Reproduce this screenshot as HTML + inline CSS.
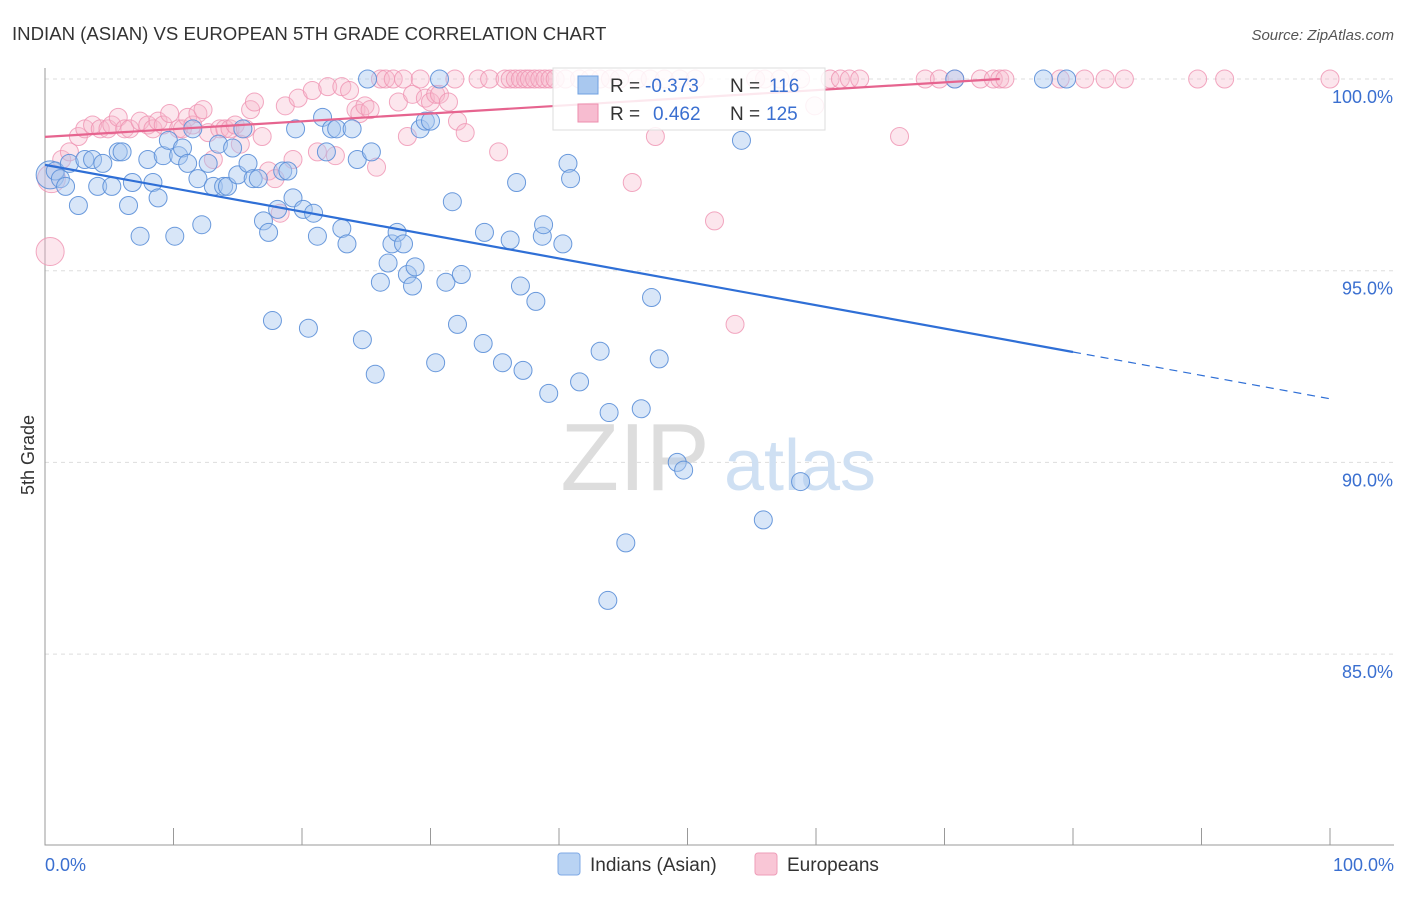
<!DOCTYPE html>
<html><head><meta charset="utf-8">
<style>
body{margin:0;background:#fff;font-family:"Liberation Sans",sans-serif;}
svg text{font-family:"Liberation Sans",sans-serif;}
</style></head>
<body>
<svg id="chart" width="1406" height="892" xmlns="http://www.w3.org/2000/svg">
<text x="12" y="40" font-size="18.6" fill="#333">INDIAN (ASIAN) VS EUROPEAN 5TH GRADE CORRELATION CHART</text>
<text x="1394" y="40" font-size="15" fill="#555" font-style="italic" text-anchor="end">Source: ZipAtlas.com</text>
<g id="grid"></g>
<g>
<text x="635" y="490" font-size="96" fill="#ddd" font-family="Liberation Serif" text-anchor="middle">ZIP</text>
<text x="800" y="490" font-size="72" fill="#cfe0f3" text-anchor="middle">atlas</text>
</g>
<g id="axes"></g>
<g id="pinkpts"></g>
<g id="bluepts"></g>
<g id="trends"></g>
<g>
<rect x="553" y="68" width="272" height="62" fill="#fff" fill-opacity="0.85" stroke="#ddd"/>
<rect x="578" y="76" width="20" height="18" fill="#a9c8ef" stroke="#6fa0e0"/>
<rect x="578" y="104" width="20" height="18" fill="#f7bcd0" stroke="#ec8eae"/>
<text x="610" y="92" font-size="19" fill="#333">R =</text>
<text x="645" y="92" font-size="19" fill="#3a6fd0">-0.373</text>
<text x="730" y="92" font-size="19" fill="#333">N =</text>
<text x="769" y="92" font-size="19" fill="#3a6fd0">116</text>
<text x="610" y="120" font-size="19" fill="#333">R =</text>
<text x="653" y="120" font-size="19" fill="#3a6fd0">0.462</text>
<text x="730" y="120" font-size="19" fill="#333">N =</text>
<text x="766" y="120" font-size="19" fill="#3a6fd0">125</text>
</g>
<text transform="translate(34,455) rotate(-90)" font-size="18" fill="#333" text-anchor="middle">5th Grade</text>
<g>
<rect x="558" y="853" width="22" height="22" rx="3" fill="#b9d3f3" stroke="#7faae6"/>
<text x="590" y="871" font-size="19" fill="#333">Indians (Asian)</text>
<rect x="755" y="853" width="22" height="22" rx="3" fill="#f9c6d6" stroke="#ee9db8"/>
<text x="787" y="871" font-size="19" fill="#333">Europeans</text>
</g>
</svg>
<script>
const blueX=[0.4,0.8,1.2,1.6,1.9,2.6,3.1,3.7,4.1,4.5,5.2,5.7,6.0,6.5,6.8,7.4,8.0,8.4,8.8,9.2,9.6,10.1,10.4,10.7,11.1,11.5,11.9,12.2,12.7,13.1,13.5,13.9,14.2,14.6,15.0,15.4,15.8,16.2,16.6,17.0,17.4,17.7,18.1,18.5,18.9,19.3,19.5,20.1,20.5,20.9,21.2,21.6,21.9,22.3,22.7,23.1,23.5,23.9,24.3,24.7,25.1,25.4,25.7,26.1,26.7,27.0,27.4,27.9,28.2,28.6,28.8,29.2,29.6,30.0,30.4,30.7,31.2,31.7,32.1,32.4,34.1,34.2,35.6,36.2,36.7,37.0,37.2,38.2,38.7,38.8,39.2,40.3,40.7,40.9,41.6,43.2,43.9,43.8,45.2,46.4,47.2,47.8,49.2,49.7,54.2,55.9,58.8,70.8,77.7,79.5];
const blueY=[97.5,97.6,97.4,97.2,97.8,96.7,97.9,97.9,97.2,97.8,97.2,98.1,98.1,96.7,97.3,95.9,97.9,97.3,96.9,98.0,98.4,95.9,98.0,98.2,97.8,98.7,97.4,96.2,97.8,97.2,98.3,97.2,97.2,98.2,97.5,98.7,97.8,97.4,97.4,96.3,96.0,93.7,96.6,97.6,97.6,96.9,98.7,96.6,93.5,96.5,95.9,99.0,98.1,98.7,98.7,96.1,95.7,98.7,97.9,93.2,100,98.1,92.3,94.7,95.2,95.7,96.0,95.7,94.9,94.6,95.1,98.7,98.9,98.9,92.6,100,94.7,96.8,93.6,94.9,93.1,96.0,92.6,95.8,97.3,94.6,92.4,94.2,95.9,96.2,91.8,95.7,97.8,97.4,92.1,92.9,91.3,86.4,87.9,91.4,94.3,92.7,90.0,89.8,98.4,88.5,89.5,100,100,100];
const pinkX=[0.4,0.5,1.3,1.9,2.6,3.1,3.7,4.3,4.9,5.2,5.7,6.2,6.6,7.4,8.0,8.4,8.8,9.2,9.7,10.4,10.7,11.1,11.5,11.9,12.3,12.7,13.1,13.6,14.0,14.4,14.8,15.2,15.6,16.0,16.3,16.9,17.4,17.9,18.3,18.7,19.3,19.7,20.8,21.2,22.0,22.6,23.1,23.7,24.2,24.5,24.9,25.3,25.8,26.1,26.5,27.1,27.5,27.9,28.2,28.6,29.2,29.6,30.0,30.4,30.7,31.4,31.9,32.1,32.7,33.7,34.6,35.3,35.8,36.2,36.6,37.0,37.4,37.7,38.1,38.5,38.9,39.3,39.7,40.5,41.6,42.4,43.2,44.0,44.7,45.7,46.1,47.1,47.5,48.2,49.4,50.6,52.1,53.7,55.3,56.0,57.2,58.8,59.9,61.1,61.9,62.6,63.4,66.5,68.5,69.6,70.8,72.8,73.8,74.3,74.7,79.0,80.9,82.5,84.0,89.7,91.8,100];
const pinkY=[95.5,97.4,97.9,98.1,98.5,98.7,98.8,98.7,98.7,98.8,99.0,98.7,98.7,98.9,98.8,98.7,98.9,98.8,99.1,98.7,98.7,99.0,98.8,99.1,99.2,98.6,97.9,98.7,98.7,98.7,98.8,98.3,98.7,99.2,99.4,98.5,97.6,97.4,96.5,99.3,97.9,99.5,99.7,98.1,99.8,98.0,99.8,99.7,99.2,99.1,99.3,99.2,97.7,100,100,100,99.4,100,98.5,99.6,100,99.5,99.4,99.6,99.6,99.4,100,98.9,98.6,100,100,98.1,100,100,100,100,100,100,100,100,100,100,100,100,100,100,100,100,100,97.3,100,100,98.5,100,100,100,96.3,93.6,100,100,100,100,99.3,100,100,100,100,98.5,100,100,100,100,100,100,100,100,100,100,100,100,100,100];
const yTicks=[100,95,90,85];
const yTickLabels=["100.0%","95.0%","90.0%","85.0%"];
const xTickLabels=["0.0%","100.0%"];
const blueTrend=[97.76,91.66]; // at x=0 and x=100
const pinkTrend=[98.49,100.0]; // at x=0 and x=74.3
const pinkTrendEnd=74.3;
const blueSolidEnd=80;

const NS="http://www.w3.org/2000/svg";
const X=v=>45+v*12.85;
const Y=v=>79+(100-v)*38.34;
function mk(tag,attrs,parent){const e=document.createElementNS(NS,tag);for(const k in attrs)e.setAttribute(k,attrs[k]);parent.appendChild(e);return e;}
const grid=document.getElementById('grid'),axes=document.getElementById('axes');
yTicks.forEach((t,i)=>{
  const l=mk('line',{x1:45,x2:1394,y1:Y(t),y2:Y(t),stroke:'#ddd','stroke-dasharray':'4,4'},grid);
  
  
  const tx=mk('text',{x:1393,y:Y(t)+24,'font-size':18,fill:'#3a6fd0','text-anchor':'end'},axes);
  tx.textContent=yTickLabels[i];
  
  
});
const ax=mk('path',{d:'M45,68V845H1394',stroke:'#999',fill:'none'},axes);


for(let i=0;i<=10;i++){
  const t=mk('line',{x1:X(i*10),x2:X(i*10),y1:828,y2:845,stroke:'#999'},axes);
  
  
}
[[0,'start',45],[100,'end',1394]].forEach((d,i)=>{
  const tx=mk('text',{x:d[2],y:871,'font-size':18,fill:'#3a6fd0','text-anchor':d[1]},axes);
  tx.textContent=xTickLabels[i];
  
  
});
const pp=document.getElementById('pinkpts');
pinkX.forEach((x,i)=>{
  const r=i<2?14:9;
  const c=mk('circle',{cx:X(x),cy:Y(pinkY[i]),r:r,fill:'#f7b6cb','fill-opacity':0.35,stroke:'#ef92b2','stroke-opacity':0.8,'stroke-width':1},pp);
  
  
});
const bp=document.getElementById('bluepts');
blueX.forEach((x,i)=>{
  const r=i===0?14:9;
  const c=mk('circle',{cx:X(x),cy:Y(blueY[i]),r:r,fill:'#a9c8ef','fill-opacity':0.45,stroke:'#5b8fd8','stroke-opacity':0.9,'stroke-width':1},bp);
  
  
});
const tr=document.getElementById('trends');
const bAt=v=>blueTrend[0]+(blueTrend[1]-blueTrend[0])*v/100;
const l1=mk('line',{x1:X(0),y1:Y(bAt(0)),x2:X(blueSolidEnd),y2:Y(bAt(blueSolidEnd)),stroke:'#2f6fd6','stroke-width':2.2},tr);


const l2=mk('line',{x1:X(blueSolidEnd),y1:Y(bAt(blueSolidEnd)),x2:X(100),y2:Y(bAt(100)),stroke:'#2f6fd6','stroke-width':1.2,'stroke-dasharray':'8,6'},tr);


const l3=mk('line',{x1:X(0),y1:Y(pinkTrend[0]),x2:X(pinkTrendEnd),y2:Y(pinkTrend[1]),stroke:'#e6648f','stroke-width':2.2},tr);


</script>
</body></html>
